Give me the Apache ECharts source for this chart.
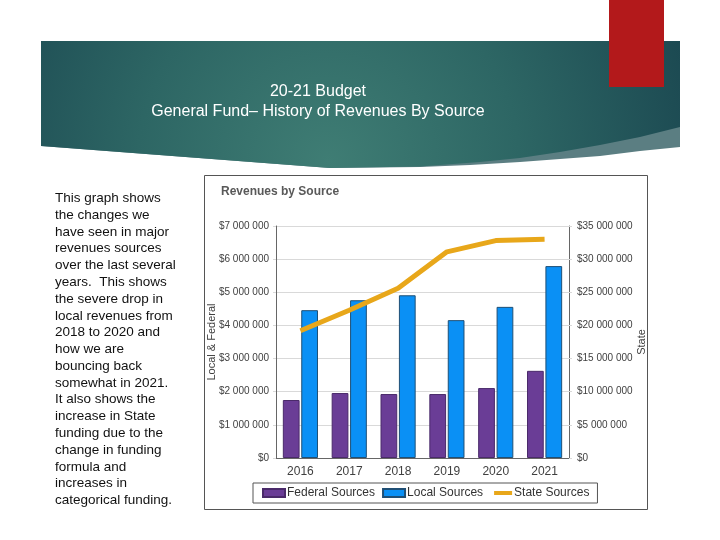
<!DOCTYPE html>
<html>
<head>
<meta charset="utf-8">
<script src="https://cdn.jsdelivr.net/npm/echarts@6/dist/echarts.min.js"></script>
<style>
html,body{margin:0;padding:0;background:#fff;}
#c{width:720px;height:540px;}
</style>
</head>
<body>
<div id="c"></div>
<script>
var years = ['2016', '2017', '2018', '2019', '2020', '2021'];
var federalSources = [1750000, 1960000, 1930000, 1930000, 2110000, 2630000];
var localSources = [4460000, 4760000, 4910000, 4160000, 4560000, 5790000];
var stateSources = [19200000, 22300000, 25600000, 31100000, 32800000, 33000000];
var seriesNames = ['Federal Sources', 'Local Sources', 'State Sources'];

var slideTitle = '20-21 Budget\nGeneral Fund\u2013 History of Revenues By Source';
var sideText = 'This graph shows\nthe changes we\nhave seen in major\nrevenues sources\nover the last several\nyears.  This shows\nthe severe drop in\nlocal revenues from\n2018 to 2020 and\nhow we are\nbouncing back\nsomewhat in 2021.\nIt also shows the\nincrease in State\nfunding due to the\nchange in funding\nformula and\nincreases in\ncategorical funding.';

function money(v) {
  return '$' + String(v).replace(/\B(?=(\d{3})+(?!\d))/g, ' ');
}

var FONT = '"Liberation Sans", Arial, sans-serif';
var chart = echarts.init(document.getElementById('c'), null, {renderer: 'canvas'});

var wedgePts = [[41,41],[680,41],[680,147],[640,151],[600,156],[560,159],[520,162],[470,165],[420,167],[330,168],[41,146]];
var bannerPts = [[41,41],[680,41],[680,127],[640,137],[600,145],[560,152],[520,158],[480,162],[420,166.5],[330,168],[41,146]];

chart.setOption({
  backgroundColor: '#ffffff',
  textStyle: {fontFamily: FONT},
  animation: false,
  graphic: [
    {type: 'polygon', z: -10, shape: {points: wedgePts}, style: {fill: '#5b7e82'}},
    {type: 'polygon', z: -9, shape: {points: bannerPts},
     style: {fill: {type: 'radial', x: 0.45, y: 0.95, r: 3.0,
       colorStops: [{offset: 0, color: '#3f7d74'}, {offset: 0.5, color: '#2d6664'}, {offset: 1, color: '#1b4851'}]}}},
    {type: 'rect', z: -8, shape: {x: 609, y: 0, width: 55, height: 87}, style: {fill: '#b3191b'}},
    {type: 'text', z: 5, style: {x: 318, y: 102, text: slideTitle, fill: '#ffffff', font: '16px ' + FONT,
       textAlign: 'center', textVerticalAlign: 'middle', lineHeight: 20}},
    {type: 'text', z: 5, style: {x: 55, y: 190, text: sideText, fill: '#111111', font: '13.5px ' + FONT,
       lineHeight: 16.78, textVerticalAlign: 'top'}},
    {type: 'rect', z: -5, shape: {x: 204.5, y: 175.5, width: 443, height: 334},
     style: {fill: '#ffffff', stroke: '#555555', lineWidth: 1}}
  ],
  title: {
    text: 'Revenues by Source', left: 216, top: 181,
    textStyle: {fontSize: 12, fontWeight: 'bold', color: '#595959', fontFamily: FONT}
  },
  legend: {
    data: [
      {name: seriesNames[0], icon: 'rect'},
      {name: seriesNames[1], icon: 'rect'},
      {name: seriesNames[2], icon: 'path://M0 0 M4 2 L22 2 L22 6 L4 6 Z M22 8'}
    ],
    left: 253, top: 483,
    padding: [4, 8, 4, 9],
    itemWidth: 22, itemHeight: 8, itemGap: 7,
    borderColor: '#555555', borderWidth: 1,
    textStyle: {fontSize: 12, color: '#333333', padding: [0, 0, 0, -3]}
  },
  grid: {left: 276, right: 151, top: 226, bottom: 82},
  xAxis: {
    type: 'category', data: years,
    axisLine: {lineStyle: {color: '#666666'}},
    axisTick: {show: false},
    axisLabel: {fontSize: 12, color: '#404040', margin: 8}
  },
  yAxis: [
    {type: 'value', min: 0, max: 7000000, interval: 1000000, position: 'left',
     name: 'Local & Federal', nameLocation: 'middle', nameRotate: 90, nameGap: 59,
     nameMoveOverlap: false,
     nameTextStyle: {fontSize: 11, color: '#404040'},
     axisLine: {show: true, lineStyle: {color: '#666666'}},
     axisTick: {show: true, length: 3, lineStyle: {color: '#d9d9d9'}},
     axisLabel: {formatter: money, fontSize: 10, color: '#404040', margin: 7},
     splitLine: {lineStyle: {color: '#d9d9d9'}}},
    {type: 'value', min: 0, max: 35000000, interval: 5000000, position: 'right',
     name: 'State', nameLocation: 'middle', nameRotate: 90, nameGap: 60,
     nameTextStyle: {fontSize: 11, color: '#404040'},
     axisLine: {show: true, lineStyle: {color: '#666666'}},
     axisTick: {show: true, length: 3, lineStyle: {color: '#d9d9d9'}},
     axisLabel: {formatter: money, fontSize: 10, color: '#404040', margin: 8},
     splitLine: {show: false}}
  ],
  series: [
    {name: seriesNames[0], type: 'bar', yAxisIndex: 0, data: federalSources,
     barGap: '10%', barCategoryGap: '28%',
     itemStyle: {color: '#6a3d96', borderColor: '#4a2a6a', borderWidth: 1}},
    {name: seriesNames[1], type: 'bar', yAxisIndex: 0, data: localSources,
     itemStyle: {color: '#0a90f5', borderColor: '#1f4f75', borderWidth: 1}},
    {name: seriesNames[2], type: 'line', yAxisIndex: 1, data: stateSources,
     symbol: 'none', lineStyle: {width: 5, color: '#e8a71a'}, itemStyle: {color: '#e8a71a'}, z: 5}
  ]
});
</script>
</body>
</html>
